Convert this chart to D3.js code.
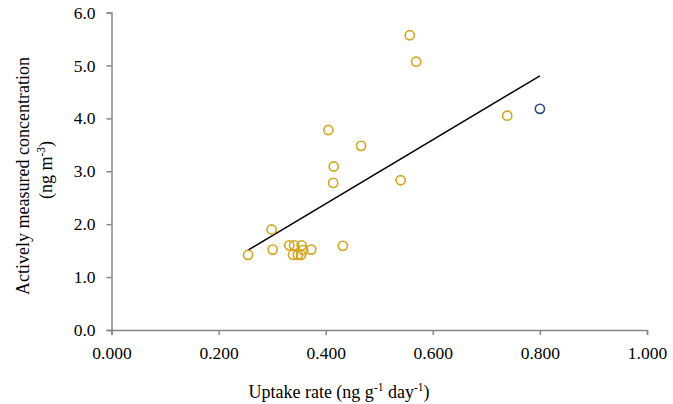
<!DOCTYPE html>
<html>
<head>
<script src="https://d3js.org/d3.v7.min.js"></script>
<style>
  body { margin: 0; background: #fff; }
</style>
</head>
<body>
<div id="chart"></div>
<script>
// uptake rate (ng g-1 day-1) vs actively measured concentration (ng m-3)
var uptakeRate = [0.255, 0.299, 0.301, 0.332, 0.341, 0.355, 0.339, 0.348, 0.354, 0.358,
                  0.373, 0.432, 0.415, 0.414, 0.466, 0.540, 0.405, 0.557, 0.569, 0.739, 0.800];
var concentration = [1.42, 1.90, 1.52, 1.60, 1.60, 1.60, 1.42, 1.42, 1.42, 1.51,
                     1.52, 1.59, 3.09, 2.78, 3.48, 2.83, 3.78, 5.57, 5.07, 4.05, 4.18];
var pointGroup = ["a","a","a","a","a","a","a","a","a","a",
                  "a","a","a","a","a","a","a","a","a","a","b"];
// linear trendline: y = slope * x + intercept
var trendSlope = 6.04;
var trendIntercept = -0.03;
var xTicks = [0, 0.2, 0.4, 0.6, 0.8, 1.0];
var yTicks = [0, 1, 2, 3, 4, 5, 6];

var width = 673, height = 404;
var margin = {top: 12.5, right: 26, bottom: 74, left: 111.5};
var font = "'Liberation Serif', 'Times New Roman', serif";

var svg = d3.select("#chart").append("svg")
    .attr("width", width)
    .attr("height", height);

var x = d3.scaleLinear().domain([0, 1]).range([margin.left, width - margin.right]);
var y = d3.scaleLinear().domain([0, 6]).range([height - margin.bottom, margin.top]);

var axisColor = "#868686";

// x axis
var gx = svg.append("g")
    .attr("transform", "translate(0," + y(0) + ")")
    .call(d3.axisBottom(x).tickValues(xTicks).tickFormat(d3.format(".3f")).tickSizeOuter(0).tickSize(5).tickPadding(12));
gx.select(".domain").attr("stroke", axisColor).attr("stroke-width", 1.5);
gx.selectAll(".tick line").attr("stroke", axisColor).attr("stroke-width", 1.5);
gx.selectAll(".tick text").attr("font-size", 17.5).style("font-family", font).attr("fill", "#000");

// y axis
var gy = svg.append("g")
    .attr("transform", "translate(" + x(0) + ",0)")
    .call(d3.axisLeft(y).tickValues(yTicks).tickFormat(d3.format(".1f")).tickSizeOuter(0).tickSize(5).tickPadding(11));
gy.select(".domain").attr("stroke", axisColor).attr("stroke-width", 1.5);
gy.selectAll(".tick line").attr("stroke", axisColor).attr("stroke-width", 1.5);
gy.selectAll(".tick text").attr("font-size", 17.5).style("font-family", font).attr("fill", "#000");

// trendline drawn over the data's x range
var xr = d3.extent(uptakeRate);
svg.append("line")
    .attr("x1", x(xr[0])).attr("y1", y(trendIntercept + trendSlope * xr[0]))
    .attr("x2", x(xr[1])).attr("y2", y(trendIntercept + trendSlope * xr[1]))
    .attr("stroke", "#000").attr("stroke-width", 1.5);

// points
var color = {a: "#D4A521", b: "#2F4B7C"};
svg.append("g").selectAll("circle")
    .data(d3.range(uptakeRate.length))
    .join("circle")
    .attr("cx", i => x(uptakeRate[i]))
    .attr("cy", i => y(concentration[i]))
    .attr("r", 4.6)
    .attr("fill", "none")
    .attr("stroke", i => color[pointGroup[i]])
    .attr("stroke-width", 1.6);

// axis titles
svg.append("text")
    .attr("transform", "translate(29,176) rotate(-90)")
    .attr("text-anchor", "middle")
    .attr("font-size", 18)
    .style("font-family", font)
    .text("Actively measured concentration");

var yt2 = svg.append("text")
    .attr("transform", "translate(52,170) rotate(-90)")
    .attr("text-anchor", "middle")
    .attr("font-size", 18)
    .style("font-family", font);
yt2.append("tspan").text("(ng m");
yt2.append("tspan").attr("dy", -7).attr("font-size", 11.5).text("-3");
yt2.append("tspan").attr("dy", 7).text(")");

var xt = svg.append("text")
    .attr("x", 339)
    .attr("y", 398)
    .attr("text-anchor", "middle")
    .attr("font-size", 18)
    .style("font-family", font);
xt.append("tspan").text("Uptake rate (ng g");
xt.append("tspan").attr("dy", -7).attr("font-size", 11.5).text("-1");
xt.append("tspan").attr("dy", 7).text(" day");
xt.append("tspan").attr("dy", -7).attr("font-size", 11.5).text("-1");
xt.append("tspan").attr("dy", 7).text(")");
</script>
</body>
</html>
